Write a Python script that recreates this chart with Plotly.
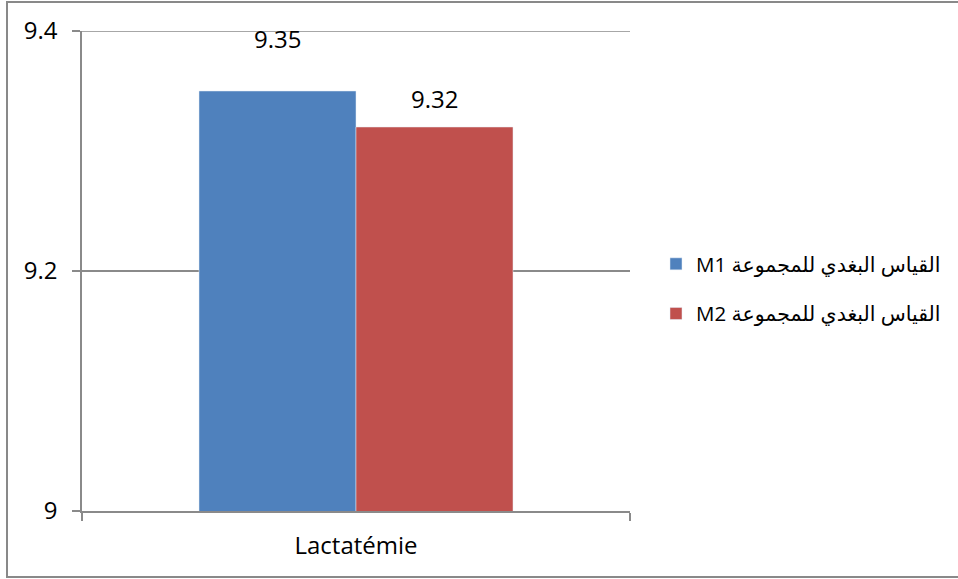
import plotly.graph_objects as go

categories = ["Lactatémie"]
series_names = ["M1 القياس البغدي للمجموعة", "M2 القياس البغدي للمجموعة"]
m1_values = [9.35]
m2_values = [9.32]
y_tickvals = [9.0, 9.2, 9.4]
y_ticktext = ["9", "9.2", "9.4"]

colors = ["#4F81BD", "#C0504D"]
label_shifts = [53, 29]
BARGAP = 0.427
FONT = "Open Sans, DejaVu Sans, sans-serif"
GRID = "#8a8a8a"

W, H = 958, 579
L, R, T, B = 82, 328, 31, 68
pw, ph = W - L - R, H - T - B

fig = go.Figure()
for i, (name, vals) in enumerate(zip(series_names, [m1_values, m2_values])):
    fig.add_trace(go.Bar(
        x=categories, y=vals, name=name, marker_color=colors[i],
        legendgroup=f"g{i}", showlegend=True,
    ))

bar_w = (1 - BARGAP) / 2
offsets = [-bar_w / 2, bar_w / 2]
for i, vals in enumerate([m1_values, m2_values]):
    for j, v in enumerate(vals):
        fig.add_annotation(
            x=j + offsets[i], y=v, text=f"{v:.2f}", showarrow=False,
            yanchor="middle", yshift=label_shifts[i],
            font=dict(family=FONT, size=24, color="#000"),
        )

# gridline at the top tick (plotly omits it at the range edge)
fig.add_shape(
    type="line", xref="paper", yref="y", x0=0, x1=1,
    y0=y_tickvals[-1], y1=y_tickvals[-1],
    line=dict(color=GRID, width=1.5), layer="below",
)

def px_to_paper_x(px):
    return (px - L) / pw

def px_to_paper_y(py):
    return (H - B - py) / ph

fig.add_shape(
    type="rect", xref="paper", yref="paper",
    x0=px_to_paper_x(7), x1=px_to_paper_x(962),
    y0=px_to_paper_y(577), y1=px_to_paper_y(2),
    line=dict(color="#898989", width=2), fillcolor="rgba(0,0,0,0)", layer="above",
)

fig.update_layout(
    width=W, height=H,
    margin=dict(l=L, r=R, t=T, b=B, pad=0),
    paper_bgcolor="white", plot_bgcolor="white",
    barmode="group", bargap=BARGAP, bargroupgap=0,
    font=dict(family=FONT, size=24, color="#000"),
    showlegend=True,
    legend=dict(
        x=px_to_paper_x(656), xanchor="left",
        y=px_to_paper_y(289), yanchor="middle",
        font=dict(family=FONT, size=20.5, color="#000"),
        traceorder="grouped", tracegroupgap=20,
        bgcolor="rgba(0,0,0,0)",
    ),
    xaxis=dict(
        type="category", tickson="boundaries", ticks="outside", ticklen=8,
        tickcolor=GRID, tickwidth=1.5, showline=True, linecolor=GRID, linewidth=1.5,
        showgrid=False, ticklabelstandoff=12,
        tickfont=dict(family=FONT, size=24, color="#000"),
    ),
    yaxis=dict(
        range=[9.0, 9.4], tickvals=y_tickvals, ticktext=y_ticktext,
        ticks="outside", ticklen=8, tickcolor=GRID, tickwidth=1.5,
        showline=True, linecolor=GRID, linewidth=1.5,
        showgrid=True, gridcolor=GRID, gridwidth=1.5, zeroline=False,
        ticklabelstandoff=10,
        tickfont=dict(family=FONT, size=24, color="#000"),
    ),
)

fig.write_html(
    "out.html",
    config={"displayModeBar": False},
    post_script="document.body.style.margin='0px';document.body.style.overflow='hidden';",
)
